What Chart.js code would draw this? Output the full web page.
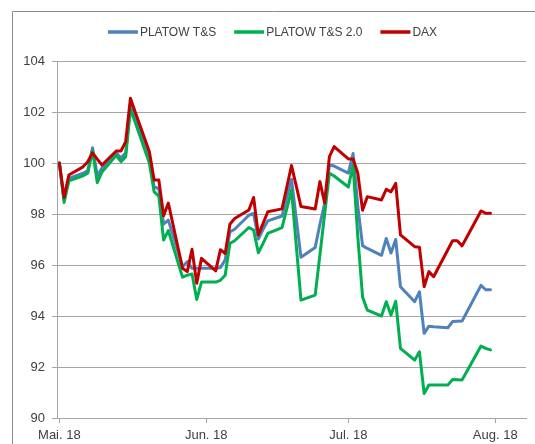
<!DOCTYPE html>
<html>
<head>
<meta charset="utf-8">
<script src="https://cdn.jsdelivr.net/npm/chart.js@4.4.1/dist/chart.umd.min.js"></script>
<style>
html,body{margin:0;padding:0;background:#fff;}
canvas{display:block;}
</style>
</head>
<body>
<canvas id="c" width="535" height="444"></canvas>
<script>
// Trading days, counted as days since 1 May 2018
const days = [1,2,3,6,7,8,9,10,13,14,15,16,17,20,21,22,23,24,27,28,29,30,
  31,34,35,36,37,38,41,42,43,44,45,48,49,50,51,52,55,56,57,58,59,
  62,63,64,65,66,69,70,71,72,73,76,77,78,79,80,83,84,85,86,87,90,91,
  92];

const platowTS = [100,98.55,99.4,99.6,99.7,100.6,99.5,99.8,100.4,100.2,100.4,102.3,101.8,100.2,99.06,99.0,97.6,97.76,95.93,96.13,95.87,95.87,
  95.87,95.87,95.9,96.2,97.3,97.4,97.95,98.02,97.02,97.4,97.73,97.92,98.65,99.36,97.83,96.3,96.69,97.6,98.42,99.92,99.88,
  99.6,100.37,98.3,96.76,96.65,96.38,97.04,96.47,97.0,95.15,94.56,94.95,93.32,93.6,93.58,93.54,93.78,93.79,93.8,94.15,95.2,95.03,
  95.03];

const platowTS2 = [100,98.45,99.3,99.5,99.6,100.5,99.23,99.65,100.3,100.05,100.25,102.1,101.6,100.0,98.87,98.7,96.98,97.35,95.52,95.6,95.65,94.65,
  95.33,95.33,95.4,95.6,96.85,96.95,97.47,97.37,96.48,96.85,97.24,97.47,98.2,98.94,96.78,94.62,94.82,96.4,98.0,99.6,99.49,
  99.06,99.92,97.1,94.75,94.23,94.0,94.56,94.04,94.58,92.73,92.27,92.6,90.96,91.29,91.29,91.29,91.51,91.5,91.49,91.82,92.82,92.73,
  92.67];

const dax = [100,98.65,99.53,99.85,100.05,100.4,100.15,99.92,100.47,100.47,100.84,102.54,102.0,100.44,99.33,99.33,97.93,98.43,95.87,95.74,96.62,95.28,
  96.26,95.77,96.6,96.45,97.6,97.82,98.16,98.65,97.18,97.63,98.09,98.2,99.05,99.9,99.1,98.29,98.2,99.27,98.43,100.25,100.64,
  100.16,100.16,99.6,98.15,98.68,98.55,98.97,98.87,99.2,97.18,96.72,96.7,95.15,95.74,95.54,96.6,96.95,96.95,96.75,97.09,98.12,98.03,
  98.03];

const seriesNames = ['PLATOW T&S', 'PLATOW T&S 2.0', 'DAX'];
const seriesColors = ['#4F81BD', '#00B050', '#C00000'];

const tickDays = [1, 32, 62, 93];
const tickLabels = ['Mai. 18', 'Jun. 18', 'Jul. 18', 'Aug. 18'];
const yMin = 90, yMax = 104, yStep = 2;

const gridColor = '#a6a6a6';
const textColor = '#404040';
const fontFamily = '"Liberation Sans", Arial, sans-serif';

function pts(vals){ return days.map((d,i)=>({x:d, y:vals[i]})); }

const allSeries = [platowTS, platowTS2, dax];
const datasets = allSeries.map((vals, i) => ({
  label: seriesNames[i],
  data: pts(vals),
  borderColor: seriesColors[i],
  backgroundColor: seriesColors[i],
  borderWidth: 3,
  pointRadius: 0,
  pointHoverRadius: 0,
  tension: 0,
  fill: false,
  borderJoinStyle: 'round',
  borderCapStyle: 'round',
  order: 3 - i
}));

const framePlugin = {
  id: 'frame',
  beforeDraw(chart){
    const ctx = chart.ctx;
    ctx.save();
    ctx.strokeStyle = '#8c8c8c';
    ctx.lineWidth = 1;
    ctx.beginPath();
    ctx.moveTo(12.5, 444);
    ctx.lineTo(12.5, 11.5);
    ctx.lineTo(535, 11.5);
    ctx.stroke();
    ctx.restore();
  }
};

const legendPlugin = {
  id: 'customLegend',
  afterDraw(chart){
    const ctx = chart.ctx;
    ctx.save();
    ctx.font = '12px ' + fontFamily;
    const sample = 30, gapText = 2, gapItem = 18, yc = 32;
    const ds = chart.data.datasets;
    let total = 0;
    ds.forEach((d, i) => {
      total += sample + gapText + ctx.measureText(d.label).width;
      if (i < ds.length - 1) total += gapItem;
    });
    let x = 272.5 - total / 2;
    ds.forEach((d) => {
      ctx.strokeStyle = d.borderColor;
      ctx.lineWidth = 3.5;
      ctx.lineCap = 'butt';
      ctx.beginPath();
      ctx.moveTo(x, yc);
      ctx.lineTo(x + sample, yc);
      ctx.stroke();
      ctx.fillStyle = textColor;
      ctx.textBaseline = 'middle';
      ctx.textAlign = 'left';
      ctx.fillText(d.label, x + sample + gapText, yc + 0.5);
      x += sample + gapText + ctx.measureText(d.label).width + gapItem;
    });
    ctx.restore();
  }
};

new Chart(document.getElementById('c'), {
  type: 'line',
  data: { datasets },
  options: {
    responsive: false,
    devicePixelRatio: 1,
    animation: false,
    layout: { padding: { left: 12, top: 61, right: 9, bottom: 0 } },
    plugins: { legend: { display: false }, tooltip: { enabled: false } },
    scales: {
      x: {
        type: 'linear',
        min: 0.5,
        max: 99.5,
        afterBuildTicks(scale){ scale.ticks = tickDays.map(v => ({ value: v })); },
        afterFit(scale){ scale.height = 26; },
        grid: { drawOnChartArea: false, drawTicks: true, tickLength: 5, color: gridColor },
        border: { display: true, color: gridColor },
        ticks: {
          autoSkip: false, maxRotation: 0, minRotation: 0, padding: 5,
          color: textColor, font: { family: fontFamily, size: 13 },
          callback(value, index){ return tickLabels[index]; }
        }
      },
      y: {
        min: yMin,
        max: yMax,
        afterFit(scale){ scale.width = 45; },
        grid: { color: gridColor, tickLength: 5 },
        border: { display: true, color: gridColor },
        ticks: {
          stepSize: yStep, padding: 7,
          color: textColor, font: { family: fontFamily, size: 13 }
        }
      }
    }
  },
  plugins: [framePlugin, legendPlugin]
});
</script>
</body>
</html>
